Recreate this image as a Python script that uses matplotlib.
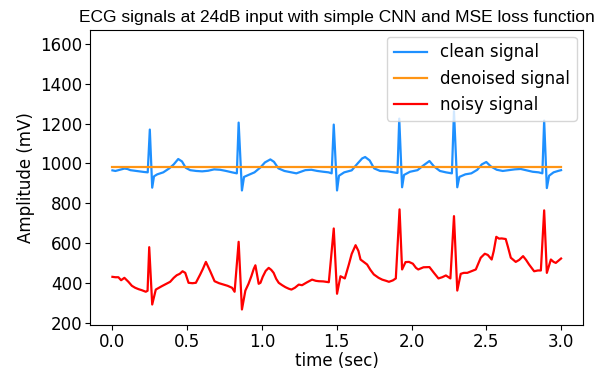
import numpy as np
import matplotlib
matplotlib.use("Agg")
import matplotlib.pyplot as plt

# (time in sec, amplitude in mV)
clean_signal = np.array([
    (0.00, 965), (0.02, 962), (0.04, 966), (0.06, 970), (0.08, 974), (0.10, 972),
    (0.12, 966), (0.15, 963), (0.18, 960), (0.21, 957), (0.236, 955), (0.25, 1170),
    (0.266, 878), (0.278, 935), (0.30, 945), (0.34, 955), (0.38, 975), (0.41, 995),
    (0.44, 1022), (0.465, 1010), (0.49, 978), (0.52, 966), (0.56, 962), (0.60, 960),
    (0.64, 963), (0.68, 970), (0.72, 968), (0.76, 962), (0.80, 955), (0.832, 950),
    (0.844, 1205), (0.866, 864), (0.88, 932), (0.91, 942), (0.95, 955), (0.99, 980),
    (1.02, 1005), (1.056, 1020), (1.08, 1008), (1.11, 975), (1.15, 962), (1.19, 956),
    (1.23, 950), (1.26, 958), (1.29, 966), (1.33, 968), (1.37, 962), (1.41, 958),
    (1.445, 955), (1.466, 950), (1.48, 1195), (1.502, 864), (1.515, 938), (1.55, 955),
    (1.60, 965), (1.64, 1000), (1.67, 1025), (1.69, 1032), (1.72, 1015), (1.75, 975),
    (1.79, 962), (1.84, 960), (1.88, 955), (1.906, 952), (1.918, 1225), (1.937, 880),
    (1.95, 942), (1.99, 958), (2.04, 966), (2.08, 990), (2.12, 1012), (2.15, 985),
    (2.19, 962), (2.23, 955), (2.27, 950), (2.284, 1262), (2.306, 880), (2.32, 932),
    (2.36, 945), (2.40, 950), (2.44, 968), (2.47, 995), (2.50, 1007), (2.53, 985),
    (2.57, 968), (2.61, 962), (2.65, 966), (2.69, 970), (2.73, 972), (2.77, 965),
    (2.81, 958), (2.85, 955), (2.875, 950), (2.887, 1215), (2.905, 876), (2.92, 938),
    (2.95, 955), (2.98, 962), (3.00, 966),
])

denoised_signal = np.array([(0.00, 980), (3.00, 980)])

noisy_signal = np.array([
    (0.00, 430), (0.02, 428), (0.04, 428), (0.058, 413), (0.08, 425), (0.107, 405),
    (0.13, 385), (0.152, 375), (0.175, 368), (0.196, 363), (0.223, 355), (0.235, 360),
    (0.246, 579), (0.266, 291), (0.29, 366), (0.33, 383), (0.36, 395), (0.386, 405),
    (0.41, 425), (0.43, 438), (0.45, 445), (0.469, 458), (0.487, 450), (0.509, 400),
    (0.535, 398), (0.558, 400), (0.587, 442), (0.605, 470), (0.625, 505), (0.654, 458),
    (0.683, 408), (0.713, 398), (0.743, 391), (0.77, 385), (0.80, 375), (0.817, 355),
    (0.844, 606), (0.866, 266), (0.889, 361), (0.91, 395), (0.929, 433), (0.945, 470),
    (0.956, 488), (0.978, 395), (0.99, 400), (1.005, 430), (1.025, 460), (1.045, 475),
    (1.062, 465), (1.078, 450), (1.095, 420), (1.112, 400), (1.135, 388), (1.157, 378),
    (1.18, 370), (1.197, 366), (1.22, 375), (1.246, 391), (1.268, 388), (1.30, 402),
    (1.335, 416), (1.36, 410), (1.38, 408), (1.41, 407), (1.447, 403), (1.48, 673),
    (1.502, 345), (1.525, 433), (1.554, 422), (1.581, 492), (1.60, 545), (1.626, 589),
    (1.645, 560), (1.659, 517), (1.68, 505), (1.703, 492), (1.725, 465), (1.748, 442),
    (1.78, 425), (1.804, 416), (1.83, 410), (1.849, 405), (1.875, 412), (1.895, 422),
    (1.92, 769), (1.937, 467), (1.96, 504), (1.983, 505), (2.009, 496), (2.03, 475),
    (2.045, 467), (2.08, 478), (2.12, 479), (2.15, 450), (2.18, 422), (2.205, 428),
    (2.23, 437), (2.26, 422), (2.284, 735), (2.306, 361), (2.329, 445), (2.35, 450),
    (2.373, 450), (2.40, 458), (2.43, 467), (2.463, 526), (2.49, 546), (2.51, 540),
    (2.536, 517), (2.55, 560), (2.567, 631), (2.585, 622), (2.603, 623), (2.63, 620),
    (2.645, 580), (2.664, 526), (2.697, 505), (2.72, 515), (2.746, 534), (2.766, 515),
    (2.786, 492), (2.82, 458), (2.845, 462), (2.865, 462), (2.887, 764), (2.905, 450),
    (2.932, 517), (2.95, 505), (2.965, 500), (3.00, 522),
])

fig, ax = plt.subplots(figsize=(5.96, 3.71), dpi=100)
fig.subplots_adjust(left=0.151, right=0.979, top=0.919, bottom=0.124)

ax.plot(clean_signal[:, 0], clean_signal[:, 1], color="#1e90ff", lw=1.6, label="clean signal")
ax.plot(denoised_signal[:, 0], denoised_signal[:, 1], color="#ff9514", lw=1.6, label="denoised signal")
ax.plot(noisy_signal[:, 0], noisy_signal[:, 1], color="red", lw=1.6, label="noisy signal")

ax.set_ylim(188, 1670)
ax.set_title("ECG signals at 24dB input with simple CNN and MSE loss function",
             fontsize=12.5, family="Liberation Sans", pad=6)
ax.set_xlabel("time (sec)", fontsize=12, labelpad=1)
ax.set_ylabel("Amplitude (mV)", fontsize=12)
ax.tick_params(labelsize=12, pad=2)
ax.legend(loc="upper right", fontsize=12, borderaxespad=0.4)

fig.savefig("out.png")
